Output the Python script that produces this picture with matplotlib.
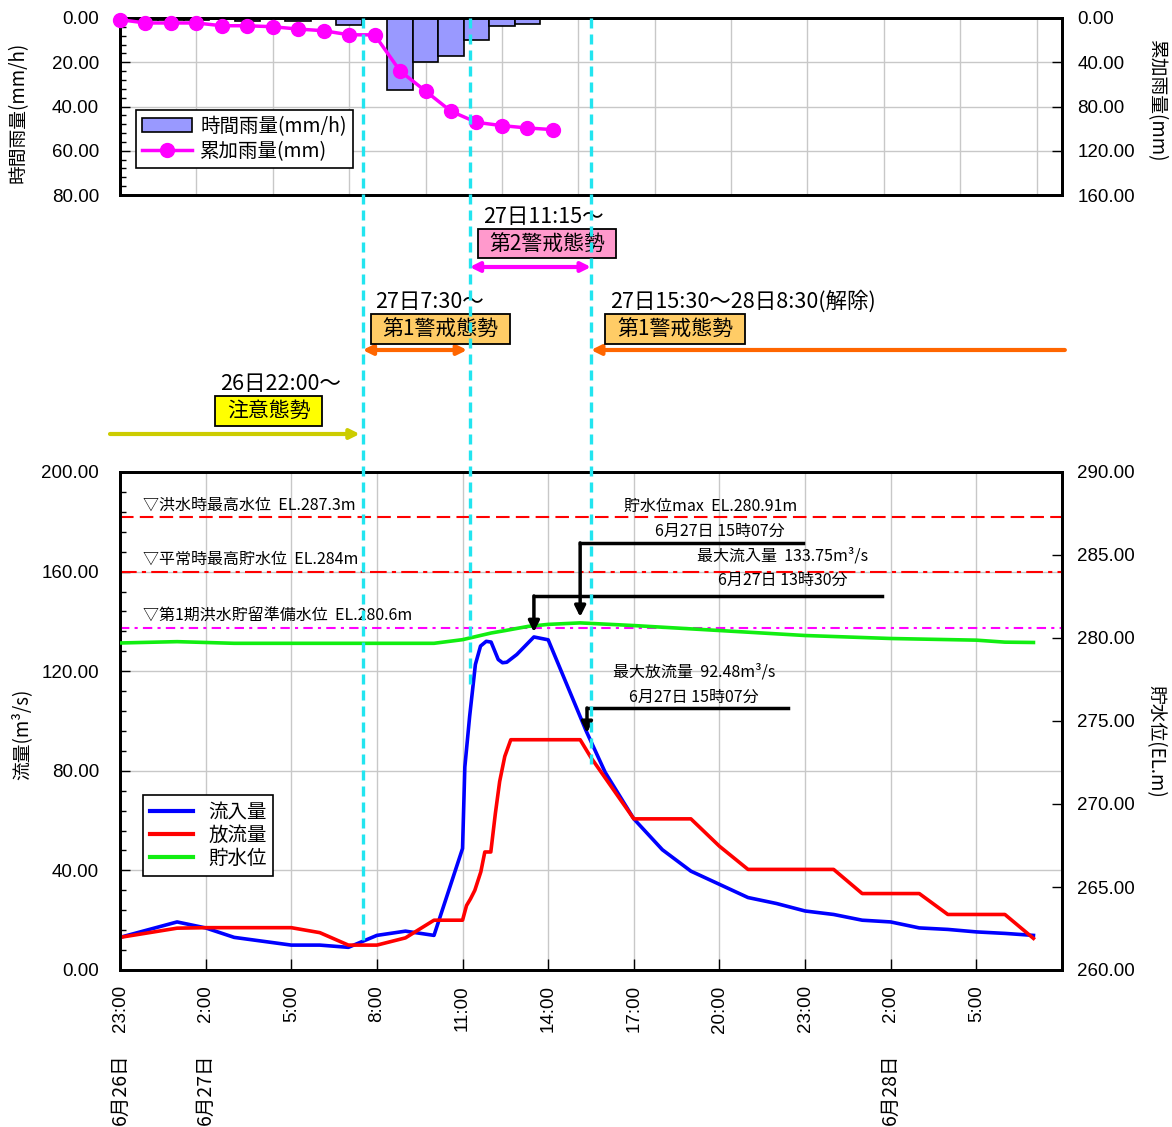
import matplotlib
matplotlib.use('Agg')
import matplotlib.pyplot as plt
from matplotlib.transforms import blended_transform_factory
from matplotlib.lines import Line2D
from matplotlib.patches import Patch, Rectangle
from matplotlib.ticker import MultipleLocator

CJK = ['Noto Sans CJK JP', 'DejaVu Sans']
NUM = ['Liberation Sans', 'DejaVu Sans']
plt.rcParams['font.family'] = CJK

# ---------------- data ----------------
# top chart: hourly categories
rain_idx = list(range(18))
rain_mmh = [0.7, 0.7, 0.7, 0.7, 0.4, 1.2, 0.0, 1.2, 0.0, 3.3, 0.0, 32.5, 20.0, 17.0, 10.0, 3.5, 2.6, 0.0]
cum_mm = [1.5, 4.5, 4.5, 4.5, 7.0, 7.0, 7.9, 10.0, 11.5, 15.2, 15.2, 47.9, 66.0, 84.3, 94.3, 97.3, 99.4, 100.9]

# bottom chart: hours elapsed since 6/26 23:00
inflow_t = [0, 2, 3, 4, 6, 7, 8, 9, 10, 11, 12, 12.08, 12.25, 12.45, 12.63, 12.83, 13.0, 13.25, 13.4, 13.55,
            13.9, 14.5, 15.0, 16.33, 17, 18, 19, 20, 21, 22, 23, 24, 25, 26, 27, 28, 29, 30, 31, 32]
inflow_v = [13.1, 19.3, 16.9, 13.1, 10.0, 10.0, 9.1, 13.9, 15.6, 13.9, 48.8, 81.5, 102.0, 122.7, 130.1, 132.0, 131.7, 124.7, 123.4, 123.6,
            126.7, 133.75, 132.6, 96.0, 79.3, 60.7, 48.3, 39.7, 34.4, 29.1, 26.7, 23.7, 22.3, 20.0, 19.3, 16.9, 16.3, 15.3, 14.7, 13.9]

out_t = [0, 2, 3, 6, 7, 8, 9, 10, 11, 12, 12.14, 12.28, 12.43, 12.64, 12.78, 12.99, 13.15, 13.3, 13.48, 13.69,
         16.12, 16.5, 18, 20, 21, 22, 25, 26, 28, 29, 31, 32]
out_v = [13.1, 16.8, 17.0, 17.0, 15.0, 10.0, 10.0, 12.9, 20.0, 20.0, 25.9, 28.6, 32.0, 39.4, 47.4, 47.4, 62.9, 75.7, 85.8, 92.48,
         92.48, 85.3, 60.7, 60.7, 49.7, 40.4, 40.4, 30.7, 30.7, 22.3, 22.3, 12.7]

lvl_t = [0, 2, 4, 11, 12, 12.5, 13, 13.5, 14.3, 15, 16.12, 18, 21, 24, 27, 30, 31, 32]
lvl_v = [279.7, 279.78, 279.68, 279.68, 279.9, 280.1, 280.3, 280.45, 280.7, 280.82, 280.91, 280.75, 280.45, 280.15, 279.97, 279.87, 279.75, 279.73]

ref_levels = [287.3, 284.0, 280.6]
ref_labels = ['▽洪水時最高水位  EL.287.3m', '▽平常時最高貯水位  EL.284m', '▽第1期洪水貯留準備水位  EL.280.6m']

x_ticks = list(range(0, 31, 3))
x_labels = ['23:00', '2:00', '5:00', '8:00', '11:00', '14:00', '17:00', '20:00', '23:00', '2:00', '5:00']
date_ticks = [0, 3, 27]
date_labels = ['6月26日', '6月27日', '6月28日']

alert_times = [8.5, 12.25, 16.5]        # 27日7:30, 27日11:15, 27日15:30
peak_in_time, peak_in_value = 14.5, 133.75
peak_lvl_time, peak_lvl_value = 16.12, 280.91
peak_out_value = 92.48

# ---------------- figure ----------------
W, H = 1172, 1127
fig = plt.figure(figsize=(W / 100, H / 100), dpi=100)


def fx(px):
    return px / W


def fy(py):
    return 1 - py / H


GRID = '#C8C8C8'

ax1 = fig.add_axes([fx(120), fy(195), 942 / W, 177 / H])
ax2 = fig.add_axes([fx(120), fy(970), 942 / W, 498 / H])

# ---- top chart ----
ax1.bar(rain_idx, rain_mmh, width=1.0, color='#9999FF', edgecolor='black', linewidth=1.2, zorder=2)
ax1.set_xlim(0, 37)
ax1.set_ylim(80, 0)
ax1.set_yticks(range(0, 81, 20))
ax1.set_yticklabels([f'{v:.2f}' for v in range(0, 81, 20)], family=NUM, fontsize=13.5)
ax1.yaxis.set_minor_locator(MultipleLocator(4))
ax1.set_xticks(range(0, 37, 3))
ax1.tick_params(axis='x', length=0, labelbottom=False)
ax1.tick_params(axis='y', which='major', direction='in', length=7, width=1, pad=15)
ax1.tick_params(axis='y', which='minor', direction='in', length=4, width=1)
ax1.grid(True, color=GRID, lw=1, zorder=0)
ax1.set_axisbelow(True)

ax1r = ax1.twinx()
ax1r.plot(rain_idx, cum_mm, color='#FF00FF', lw=2.5, marker='o', ms=10, clip_on=False, zorder=3)
ax1r.set_ylim(160, 0)
ax1r.set_yticks(range(0, 161, 40))
ax1r.set_yticklabels([f'{v:.2f}' for v in range(0, 161, 40)], family=NUM, fontsize=13.5)
ax1r.tick_params(axis='y', direction='in', length=7, width=1, pad=11)
for a in (ax1, ax1r):
    for s in a.spines.values():
        s.set_linewidth(2)

h_bar = Patch(facecolor='#9999FF', edgecolor='black', linewidth=1.2)
h_cum = Line2D([], [], color='#FF00FF', lw=2.5, marker='o', ms=10)
leg1 = ax1r.legend([h_bar, h_cum], ['時間雨量(mm/h)', '累加雨量(mm)'], loc='upper left',
                   bbox_to_anchor=(0.017, 0.48), fontsize=14, fancybox=False, framealpha=1,
                   edgecolor='black', borderpad=0.3, labelspacing=0.2, handlelength=2.6,
                   handletextpad=0.4, borderaxespad=0)
leg1.get_frame().set_linewidth(1.2)

# ---- bottom chart ----
ax2.plot(inflow_t, inflow_v, color='#0000FF', lw=2.6, zorder=3)
ax2.plot(out_t, out_v, color='#FF0000', lw=2.6, zorder=3)
ax2.set_xlim(0, 33)
ax2.set_ylim(0, 200)
ax2.set_yticks(range(0, 201, 40))
ax2.set_yticklabels([f'{v:.2f}' for v in range(0, 201, 40)], family=NUM, fontsize=13.5)
ax2.yaxis.set_minor_locator(MultipleLocator(8))
ax2.set_xticks(x_ticks)
ax2.set_xticklabels(x_labels, rotation=90, family=NUM, fontsize=13.5)
ax2.tick_params(axis='x', direction='in', length=8, width=1, pad=11)
ax2.tick_params(axis='y', which='major', direction='in', length=7, width=1, pad=15)
ax2.tick_params(axis='y', which='minor', direction='in', length=4, width=1)
ax2.grid(True, color=GRID, lw=1, zorder=0)
ax2.set_axisbelow(True)

ax2r = ax2.twinx()
ax2r.plot(lvl_t, lvl_v, color='#11EE11', lw=2.6, zorder=3)
ax2r.axhline(ref_levels[0], color='#FF0000', lw=1.5, ls=(0, (6.5, 3)), zorder=2)
ax2r.axhline(ref_levels[1], color='#FF0000', lw=1.5, ls=(0, (8, 2.5, 2, 2.5)), zorder=2)
ax2r.axhline(ref_levels[2], color='#FF00FF', lw=1.5, ls=(0, (4.5, 2.5, 1.5, 2.5)), zorder=2)
ax2r.set_ylim(260, 290)
ax2r.set_yticks(range(260, 291, 5))
ax2r.set_yticklabels([f'{v:.2f}' for v in range(260, 291, 5)], family=NUM, fontsize=13.5)
ax2r.tick_params(axis='y', direction='in', length=7, width=1, pad=11)
for a in (ax2, ax2r):
    for s in a.spines.values():
        s.set_linewidth(2)

# reference-level labels
for lev, lab in zip(ref_levels, ref_labels):
    ax2r.text(0.8, lev + 0.72, lab, fontsize=11.5, ha='left', va='center')

# peak annotations (in left-axis units of ax2)
T = ax2.transData
ann_fs = 11.5
# max storage level
ax2r.text(20.7, 186, f'貯水位max  EL.{peak_lvl_value:.2f}m', transform=T, fontsize=ann_fs, ha='center', va='center')
ax2r.text(21.0, 176.3, '6月27日 15時07分', transform=T, fontsize=ann_fs, ha='center', va='center')
ax2r.add_line(Line2D([peak_lvl_time, 23.93], [171.5, 171.5], transform=T, color='black', lw=2.5, zorder=6))
ax2r.annotate('', xy=(peak_lvl_time, 141.8), xytext=(peak_lvl_time, 171.5), xycoords=T, textcoords=T,
              arrowprops=dict(arrowstyle='-|>', color='black', lw=2.5, mutation_scale=16, shrinkA=0, shrinkB=0),
              zorder=6)
# max inflow
ax2r.text(23.2, 166.3, f'最大流入量  {peak_in_value:.2f}m³/s', transform=T, fontsize=ann_fs, ha='center', va='center')
ax2r.text(23.2, 156.6, '6月27日 13時30分', transform=T, fontsize=ann_fs, ha='center', va='center')
ax2r.add_line(Line2D([peak_in_time, 26.7], [150.2, 150.2], transform=T, color='black', lw=2.5, zorder=6))
ax2r.annotate('', xy=(peak_in_time, 135.7), xytext=(peak_in_time, 150.2), xycoords=T, textcoords=T,
              arrowprops=dict(arrowstyle='-|>', color='black', lw=2.5, mutation_scale=16, shrinkA=0, shrinkB=0),
              zorder=6)
# max outflow
ax2r.text(20.1, 119.7, f'最大放流量  {peak_out_value:.2f}m³/s', transform=T, fontsize=ann_fs, ha='center', va='center')
ax2r.text(20.1, 109.6, '6月27日 15時07分', transform=T, fontsize=ann_fs, ha='center', va='center')
ax2r.add_line(Line2D([16.36, 23.4], [105.2, 105.2], transform=T, color='black', lw=2.5, zorder=6))
ax2r.annotate('', xy=(16.36, 95.2), xytext=(16.36, 105.2), xycoords=T, textcoords=T,
              arrowprops=dict(arrowstyle='-|>', color='black', lw=2.5, mutation_scale=16, shrinkA=0, shrinkB=0),
              zorder=6)

h_in = Line2D([], [], color='#0000FF', lw=3)
h_out = Line2D([], [], color='#FF0000', lw=3)
h_lvl = Line2D([], [], color='#11EE11', lw=3)
leg2 = ax2r.legend([h_in, h_out, h_lvl], ['流入量', '放流量', '貯水位'], loc='upper left',
                   bbox_to_anchor=(0.0244, 0.351), fontsize=14, fancybox=False, framealpha=1,
                   edgecolor='black', borderpad=0.35, labelspacing=0.1, handlelength=2.2,
                   handletextpad=0.8, borderaxespad=0)
leg2.get_frame().set_linewidth(1.2)

# date labels under the time labels
BT = blended_transform_factory(ax2.transData, fig.transFigure)
for t, lab in zip(date_ticks, date_labels):
    fig.text(t, fy(1125), lab, transform=BT, rotation=90, ha='center', va='bottom', fontsize=14)

# axis titles
fig.text(fx(18), fy(112), '時間雨量(mm/h)', rotation=90, ha='center', va='center', fontsize=13.5)
fig.text(fx(1156), fy(100), '累加雨量(mm)', rotation=-90, ha='center', va='center', fontsize=13.5)
fig.text(fx(22), fy(734), '流量(m³/s)', rotation=90, ha='center', va='center', fontsize=13.5)
fig.text(fx(1156), fy(741), '貯水位(EL.m)', rotation=-90, ha='center', va='center', fontsize=13.5)

# cyan vertical alert lines spanning both charts
line_ends = [940, 688, 765]
for t, yb in zip(alert_times, line_ends):
    fig.add_artist(Line2D([t, t], [fy(18), fy(yb)], transform=BT, color='#22E5F0', lw=2.4,
                          ls=(0, (3, 1.8)), zorder=10))


# alert-stage arrows
def arrow(x0, x1, ypx, color, style):
    fig.add_artist(plt.Annotation('', xy=(x1, fy(ypx)), xytext=(x0, fy(ypx)), xycoords=BT, textcoords=BT,
                                  arrowprops=dict(arrowstyle=style, color=color, lw=3, mutation_scale=14,
                                                  shrinkA=0, shrinkB=0)))


arrow(alert_times[1], alert_times[2], 267, '#FF00FF', '<|-|>')
arrow(alert_times[0], 12.16, 350, '#FF6600', '<|-|>')
arrow(33.1, alert_times[2], 350, '#FF6600', '-|>')
arrow(-0.35, 8.4, 434, '#CCCC00', '-|>')


# boxes and labels (pixel layout)
def box(x0, x1, y0, y1, fc, text):
    fig.add_artist(Rectangle((fx(x0), fy(y1)), (x1 - x0) / W, (y1 - y0) / H, transform=fig.transFigure,
                             facecolor=fc, edgecolor='black', lw=1.3, zorder=4))
    fig.text(fx((x0 + x1) / 2), fy((y0 + y1) / 2), text, ha='center', va='center', fontsize=15, zorder=5)


box(478, 616, 229, 258, '#FF99CC', '第2警戒態勢')
box(371, 510, 314, 344, '#FFCC66', '第1警戒態勢')
box(605, 745, 314, 344, '#FFCC66', '第1警戒態勢')
box(215, 322, 396, 426, '#FFFF00', '注意態勢')

fig.text(fx(483), fy(217), '27日11:15～', ha='left', va='center', fontsize=15.5)
fig.text(fx(375), fy(302), '27日7:30～', ha='left', va='center', fontsize=15.5)
fig.text(fx(610), fy(302), '27日15:30～28日8:30(解除)', ha='left', va='center', fontsize=15.5)
fig.text(fx(220), fy(384), '26日22:00～', ha='left', va='center', fontsize=15.5)

fig.savefig('out.png', dpi=100)
